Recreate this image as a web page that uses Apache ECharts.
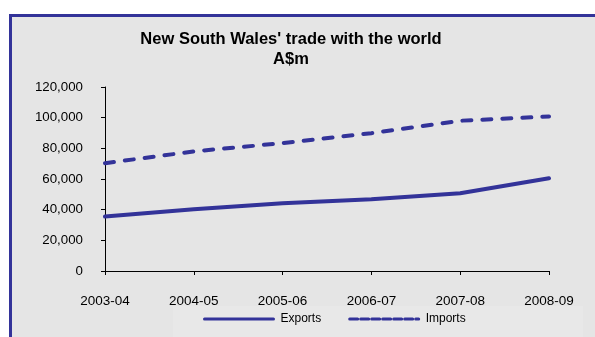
<!DOCTYPE html>
<html>
<head>
<meta charset="utf-8">
<script src="https://cdn.jsdelivr.net/npm/echarts@6/dist/echarts.min.js"></script>
<style>
  html, body { margin: 0; padding: 0; background: #ffffff; }
  #chart { width: 595px; height: 337px; }
</style>
</head>
<body>
<div id="chart"></div>
<script>
// data
const years = ['2003-04', '2004-05', '2005-06', '2006-07', '2007-08', '2008-09'];
const exportsData = [35500, 40300, 44200, 46800, 50700, 60500];
const importsData = [70300, 78000, 83400, 89900, 98000, 100800];
const seriesNames = ['Exports', 'Imports'];

const navy = '#333399';
const fontFam = '"Liberation Sans", Arial, sans-serif';

const chart = echarts.init(document.getElementById('chart'), null, { renderer: 'canvas' });

const option = {
    backgroundColor: 'transparent',
    animation: false,
    graphic: [
        {
            // chart frame, only top and left edges show
            type: 'rect',
            z: -10,
            shape: { x: 10.5, y: 15.5, width: 700, height: 400 },
            style: { fill: '#e5e5e5', stroke: navy, lineWidth: 3 }
        },
        {
            // faint box behind the legend
            type: 'rect',
            z: -9,
            shape: { x: 173, y: 306, width: 410, height: 40 },
            style: { fill: 'rgba(255,255,255,0.12)' }
        }
    ],
    title: {
        text: "New South Wales' trade with the world\nA$m",
        left: 291,
        top: 29,
        textAlign: 'center',
        padding: 0,
        textStyle: {
            fontFamily: fontFam,
            fontWeight: 'bold',
            fontSize: 16.5,
            lineHeight: 20,
            color: '#000'
        }
    },
    legend: {
        left: 203,
        top: 313,
        itemWidth: 69,
        itemHeight: 14,
        itemGap: 27,
        padding: 0,
        itemStyle: { opacity: 0 },
        data: [
            { name: seriesNames[0], lineStyle: { width: 3, type: 'solid' } },
            { name: seriesNames[1], lineStyle: { width: 3, type: [8, 3] } }
        ],
        textStyle: {
            fontFamily: fontFam,
            fontSize: 12,
            color: '#000',
            padding: [0, 0, 0, 2]
        }
    },
    grid: {
        left: 105,
        right: 46,
        top: 87,
        bottom: 66,
        containLabel: false
    },
    xAxis: {
        type: 'category',
        data: years,
        boundaryGap: false,
        axisLine: { lineStyle: { color: '#000', width: 1 } },
        axisTick: { show: true, inside: false, length: 4, lineStyle: { color: '#000' } },
        axisLabel: {
            margin: 23,
            color: '#000',
            fontFamily: fontFam,
            fontSize: 13.5
        },
        splitLine: { show: false }
    },
    yAxis: {
        type: 'value',
        min: 0,
        max: 120000,
        interval: 20000,
        axisLine: { show: true, lineStyle: { color: '#000', width: 1 } },
        axisTick: { show: true, inside: false, length: 4, lineStyle: { color: '#000' } },
        axisLabel: {
            margin: 22,
            color: '#000',
            fontFamily: fontFam,
            fontSize: 13.3,
            formatter: function (v) {
                return v.toString().replace(/\B(?=(\d{3})+(?!\d))/g, ',');
            }
        },
        splitLine: { show: false }
    },
    series: [
        {
            name: seriesNames[0],
            type: 'line',
            data: exportsData,
            symbol: 'none',
            color: navy,
            lineStyle: { color: navy, width: 4, cap: 'round', join: 'round' }
        },
        {
            name: seriesNames[1],
            type: 'line',
            data: importsData,
            symbol: 'none',
            color: navy,
            lineStyle: { color: navy, width: 4, type: [9, 11], cap: 'round', join: 'round' }
        }
    ]
};

chart.setOption(option);
</script>
</body>
</html>
